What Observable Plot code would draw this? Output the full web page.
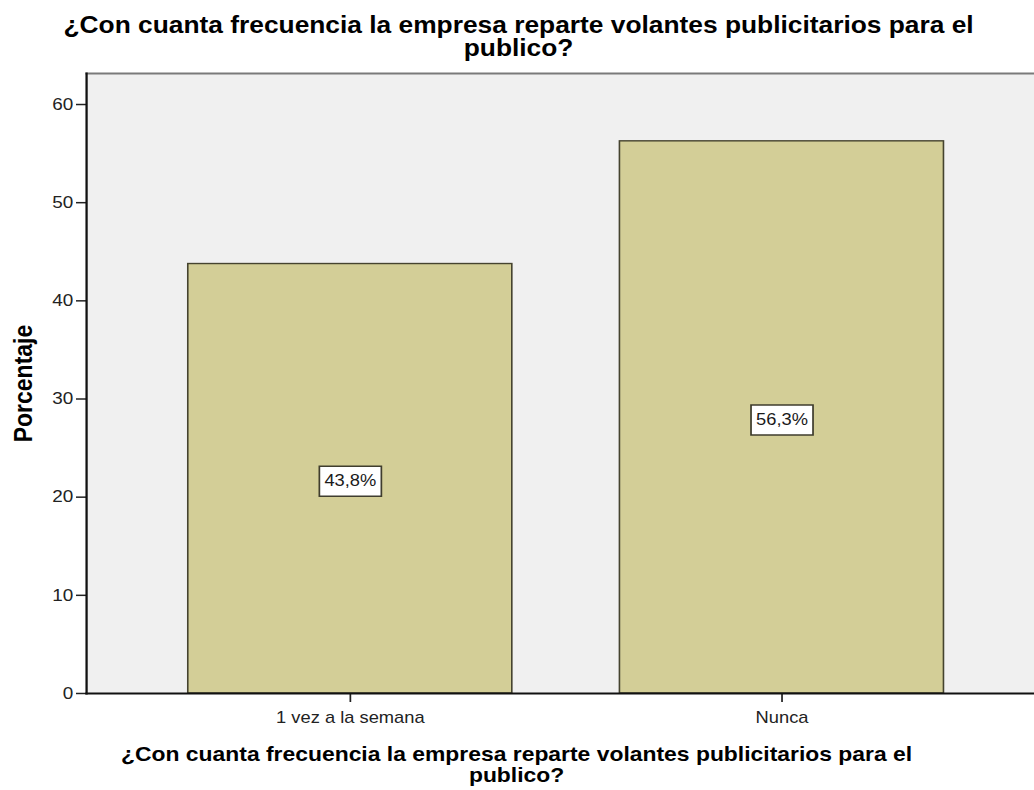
<!DOCTYPE html>
<html>
<head>
<meta charset="utf-8">
<script src="https://cdn.jsdelivr.net/npm/d3@7"></script>
<script src="https://cdn.jsdelivr.net/npm/@observablehq/plot@0.6"></script>
<style>
  html, body { margin: 0; padding: 0; background: #ffffff; }
  #chart { width: 1034px; height: 790px; overflow: hidden; }
  #chart svg { display: block; transform-origin: 0 0; }
</style>
</head>
<body>
<div id="chart"></div>
<script>
// ---- data ----
const categories = ["1 vez a la semana", "Nunca"];
const percentages = [43.75, 56.25];
const valueLabels = ["43,8%", "56,3%"];
const yTicks = [0, 10, 20, 30, 40, 50, 60];
const titleText = "¿Con cuanta frecuencia la empresa reparte volantes publicitarios para el\npublico?";
const xTitleText = "¿Con cuanta frecuencia la empresa reparte volantes publicitarios para el\npublico?";
const yTitleText = "Porcentaje";

const data = categories.map((c, i) => ({cat: c, pct: percentages[i], label: valueLabels[i]}));

// The reference picture is horizontally stretched; draw at a narrower width and stretch.
const S = 1.145;
const W = 1034 / S;
const mL = 86 / S;
const frameCenter = (mL + W) / 2;

// rectangular label box symbol
const boxW = 62 / S, boxH = 30;
const boxSymbol = {
  draw(context) {
    context.rect(-boxW / 2, -boxH / 2, boxW, boxH);
  }
};

const font = "'Liberation Sans', Arial, Helvetica, sans-serif";

const chart = Plot.plot({
  width: W,
  height: 790,
  marginTop: 73,
  marginBottom: 97,
  marginLeft: mL,
  marginRight: 0,
  style: {fontFamily: font, background: "#ffffff", color: "#222222", overflow: "hidden"},
  x: {type: "band", domain: categories, range: [mL, 1046 / S], paddingInner: 0.25, paddingOuter: 0.235, axis: null},
  y: {domain: [0, 63.16], axis: null},
  marks: [
    Plot.frame({fill: "#f0f0f0", stroke: "none"}),
    Plot.frame({anchor: "top", stroke: "#7a7a7a", strokeWidth: 2}),
    Plot.barY(data, {x: "cat", y: "pct", fill: "#d3ce97", stroke: "#45432f", strokeWidth: 1.4}),
    Plot.dot(data, {x: "cat", y: d => d.pct / 2, symbol: boxSymbol, fill: "#ffffff", stroke: "#3f3d2e", strokeWidth: 1.5, dy: 2.5}),
    Plot.text(data, {x: "cat", y: d => d.pct / 2, text: "label", fontSize: 16, fill: "#1a1a1a", dy: 2.5}),
    Plot.axisY({ticks: yTicks, tickSize: 10 / S, tickPadding: 3, fontSize: 16.5, label: null, strokeWidth: 1.5}),
    Plot.axisX({tickSize: 9, tickPadding: 9, fontSize: 16, label: null, strokeWidth: 1.5}),
    Plot.frame({anchor: "left", stroke: "#111111", strokeWidth: 2}),
    Plot.frame({anchor: "bottom", stroke: "#111111", strokeWidth: 2}),
    Plot.text([titleText], {text: d => d, frameAnchor: "top", dx: 518 / S - frameCenter, dy: -57, lineAnchor: "top", fontSize: 23, fontWeight: "bold", lineHeight: 1, fill: "#000"}),
    Plot.text([xTitleText], {text: d => d, frameAnchor: "bottom", dx: 516 / S - frameCenter, dy: 52.5, lineAnchor: "top", fontSize: 20, fontWeight: "bold", lineHeight: 1.06, fill: "#000"}),
    Plot.text([yTitleText], {text: d => d, frameAnchor: "left", textAnchor: "middle", dx: 23 / S - mL, rotate: -90, fontSize: 23, fontWeight: "bold", fill: "#000"})
  ]
});

chart.style.transform = `scaleX(${S})`;
document.getElementById("chart").appendChild(chart);
</script>
</body>
</html>
